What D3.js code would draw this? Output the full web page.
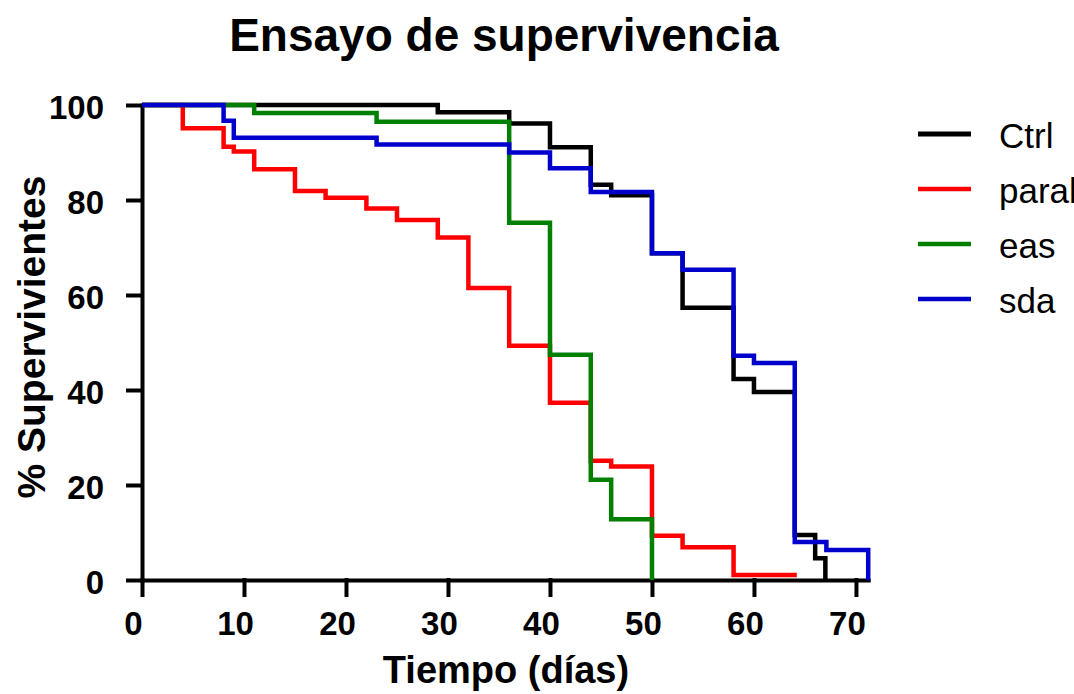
<!DOCTYPE html>
<html>
<head>
<meta charset="utf-8">
<script src="https://cdn.jsdelivr.net/npm/d3@7"></script>
<style>
	body { margin: 0; background: #fff; }
	text { font-family: "Liberation Sans", Arial, sans-serif; }
</style>
</head>
<body>
<div></div>
<script>
// survival steps (day, % surviving)
var ctrlDays = [0, 29, 36, 40, 44, 46, 50, 53, 58, 60, 64, 66, 67],
	ctrlSurv = [100, 98.5, 96.1, 91.1, 83.2, 81.0, 68.8, 57.3, 42.3, 39.6, 9.5, 4.6, 0];

var paraDays = [0, 4, 8, 9, 11, 15, 18, 22, 25, 29, 32, 36, 40, 44, 46, 50, 53, 58, 64.2],
	paraSurv = [100, 95.1, 91.2, 90.2, 86.5, 81.9, 80.5, 78.2, 75.8, 72.1, 61.5, 49.3, 37.3, 25.1, 23.9, 9.3, 6.9, 1.05, 1.05];

var easDays = [0, 11, 23, 36, 40, 44, 46, 50],
	easSurv = [100, 98.3, 96.5, 75.2, 47.4, 21.1, 12.8, 0];

var sdaDays = [0, 8, 9, 23, 36, 40, 44, 50, 53, 58, 60, 64, 67.1, 71.2],
	sdaSurv = [100, 96.7, 93.1, 91.7, 90.0, 86.7, 81.7, 68.8, 65.3, 47.2, 45.7, 8.0, 6.3, 0];

var seriesNames = ["Ctrl", "paral", "eas", "sda"],
	seriesColors = ["#000000", "#ff0000", "#008000", "#0000cc"],
	xTicks = [0, 10, 20, 30, 40, 50, 60, 70],
	yTicks = [0, 20, 40, 60, 80, 100];

var titleText = "Ensayo de supervivencia",
	xTitle = "Tiempo (días)",
	yTitle = "% Supervivientes";

var svg;

function onLoad() {
	svg = d3.select("div")
		.append("svg")
		.attr("width", 1074)
		.attr("height", 694);

	var x = d3.scaleLinear().domain([0, 71.2]).range([142, 868.2]);
	var y = d3.scaleLinear().domain([0, 100]).range([580, 105]);

	var series = [
		{days: ctrlDays, surv: ctrlSurv},
		{days: paraDays, surv: paraSurv},
		{days: easDays, surv: easSurv},
		{days: sdaDays, surv: sdaSurv}
	];

	// axes
	var yAxis = svg.append("g")
		.attr("transform", "translate(142,0)")
		.call(d3.axisLeft(y).tickValues(yTicks).tickSize(14).tickSizeOuter(0).tickPadding(24));

	var xAxis = svg.append("g")
		.attr("transform", "translate(0,580)")
		.call(d3.axisBottom(x).tickValues(xTicks).tickSize(15).tickSizeOuter(0).tickPadding(17));

	[xAxis, yAxis].forEach(function(axis) {
		axis.selectAll("path, line")
			.attr("stroke", "#000")
			.attr("stroke-width", 4)
			.attr("stroke-linecap", "square");
		axis.selectAll("text")
			.attr("fill", "#000")
			.style("font-size", "33px")
			.style("font-weight", "bold");
	});
	xAxis.selectAll("text").attr("dx", -9);
	yAxis.selectAll("text").attr("dy", "0.4em");

	// curves
	var line = d3.line()
		.x(function(d) { return x(d[0]); })
		.y(function(d) { return y(d[1]); })
		.curve(d3.curveStepAfter);

	series.forEach(function(s, index) {
		var pts = s.days.map(function(day, i) { return [day, s.surv[i]]; });
		svg.append("path")
			.attr("d", line(pts))
			.attr("fill", "none")
			.attr("stroke", seriesColors[index])
			.attr("stroke-width", 4.5);
	});

	// titles
	svg.append("text")
		.attr("x", 504)
		.attr("y", 51)
		.attr("text-anchor", "middle")
		.style("font-size", "46px")
		.style("font-weight", "bold")
		.text(titleText);

	svg.append("text")
		.attr("x", 506)
		.attr("y", 683)
		.attr("text-anchor", "middle")
		.style("font-size", "38px")
		.style("font-weight", "bold")
		.text(xTitle);

	svg.append("text")
		.attr("transform", "translate(45,337) rotate(-90)")
		.attr("text-anchor", "middle")
		.style("font-size", "39px")
		.style("font-weight", "bold")
		.text(yTitle);

	// legend
	seriesNames.forEach(function(name, index) {
		var ly = 134 + index * 55;
		svg.append("line")
			.attr("x1", 918)
			.attr("x2", 971)
			.attr("y1", ly)
			.attr("y2", ly)
			.attr("stroke", seriesColors[index])
			.attr("stroke-width", index === 0 ? 5 : 4.5);
		svg.append("text")
			.attr("x", 999)
			.attr("y", ly + 14)
			.style("font-size", "35px")
			.text(name);
	});
}

onLoad();
</script>
</body>
</html>
